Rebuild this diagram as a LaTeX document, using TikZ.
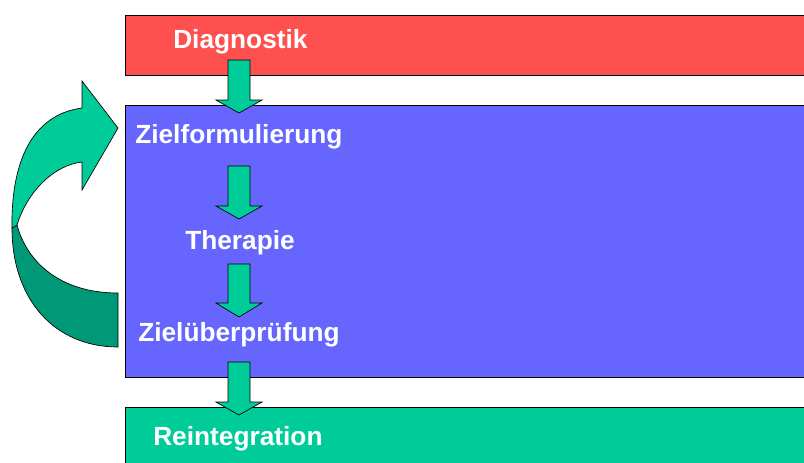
\documentclass[tikz,border=0pt]{standalone}
\usepackage{fontspec}
\setmainfont{Liberation Sans}
\definecolor{boxred}{HTML}{FF5050}
\definecolor{boxblue}{HTML}{6666FF}
\definecolor{boxgreen}{HTML}{00CC99}
\definecolor{darkgreen}{HTML}{009977}
\tikzset{
  panel/.style={draw=black, line width=0.6pt},
  label/.style={text=white, font=\bfseries\fontsize{19.7}{22}\selectfont, inner sep=0pt, anchor=base west},
  blockarrow/.style={fill=boxgreen, draw=black, line width=0.5pt, line join=miter},
  bandline/.style={draw=black, line width=0.5pt}
}
\newcommand\downarrowshape[3]{%
  \path[blockarrow] (228,#1) -- (250,#1) -- (250,#2) -- (262,#2) -- (239,#3) -- (216,#2) -- (228,#2) -- cycle;}
\begin{document}
\begin{tikzpicture}[x=0.75pt,y=-0.75pt]
\useasboundingbox (0,0) rectangle (804,462);
\clip (0,0) rectangle (804,462);
\fill[white] (0,0) rectangle (804,462);
% panels
\path[panel, fill=boxred] (125,15) rectangle (820,75);
\path[panel, fill=boxblue] (125,105) rectangle (820,377);
\path[panel, fill=boxgreen] (125,407) rectangle (820,480);
% labels
\node[label] (diag) at (173,48) {Diagnostik};
\node[label] (ziel) at (135,143) {Zielformulierung};
\node[label] (ther) at (185,249) {Therapie};
\node[label] (pruef) at (138,341) {Zielüberprüfung};
\node[label] (reint) at (153,445) {Reintegration};
% block arrows
\downarrowshape{60}{100}{113}
\downarrowshape{166}{206}{219}
\downarrowshape{264}{303}{317}
\downarrowshape{362}{402}{415}
% curved loop arrow: lower (back) band
\path[bandline, fill=darkgreen] (17,225) .. controls (27,262) and (60,293) .. (118,293)
  -- (118,347) .. controls (55,347) and (12,300) .. (12,228) -- cycle;
% upper (front) band with head
\path[bandline, fill=boxgreen] (12,228) .. controls (11,165) and (30,115) .. (82,108)
  -- (82,81) -- (118,128) -- (82,190) -- (82,162)
  .. controls (55,165) and (28,190) .. (17,225) -- cycle;
\end{tikzpicture}
\end{document}
